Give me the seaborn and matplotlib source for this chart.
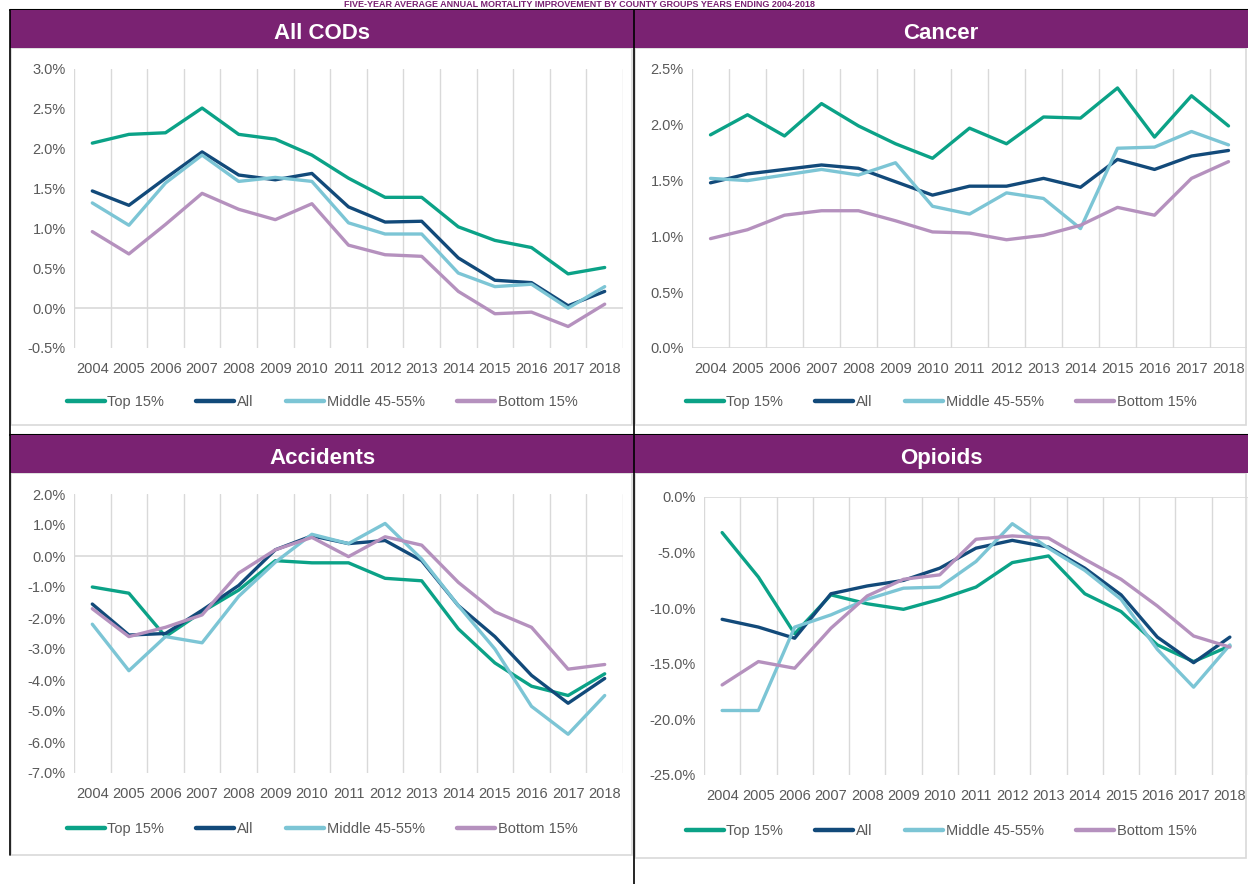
import pandas as pd
import matplotlib.pyplot as plt
import seaborn as sns
from matplotlib.patches import Rectangle
from matplotlib.lines import Line2D
from matplotlib.ticker import FuncFormatter

## data ---------------------------------------------------------------------
years  = list(range(2004, 2019))
groups = ['Top 15%', 'All', 'Middle 45-55%', 'Bottom 15%']

cod_top    = [2.07, 2.18, 2.20, 2.51, 2.18, 2.12, 1.92, 1.63, 1.39, 1.39, 1.02, 0.85, 0.76, 0.43, 0.51]
cod_all    = [1.47, 1.29, 1.63, 1.96, 1.67, 1.61, 1.69, 1.27, 1.08, 1.09, 0.63, 0.35, 0.32, 0.03, 0.21]
cod_mid    = [1.32, 1.04, 1.57, 1.92, 1.59, 1.64, 1.59, 1.07, 0.93, 0.93, 0.44, 0.27, 0.30, 0.00, 0.27]
cod_bottom = [0.96, 0.68, 1.05, 1.44, 1.24, 1.11, 1.31, 0.79, 0.67, 0.65, 0.21, -0.07, -0.05, -0.23, 0.05]

can_top    = [1.91, 2.09, 1.90, 2.19, 1.99, 1.83, 1.70, 1.97, 1.83, 2.07, 2.06, 2.33, 1.89, 2.26, 1.99]
can_all    = [1.48, 1.56, 1.60, 1.64, 1.61, 1.49, 1.37, 1.45, 1.45, 1.52, 1.44, 1.69, 1.60, 1.72, 1.77]
can_mid    = [1.52, 1.50, 1.55, 1.60, 1.55, 1.66, 1.27, 1.20, 1.39, 1.34, 1.07, 1.79, 1.80, 1.94, 1.82]
can_bottom = [0.98, 1.06, 1.19, 1.23, 1.23, 1.14, 1.04, 1.03, 0.97, 1.01, 1.10, 1.26, 1.19, 1.52, 1.67]

acc_top    = [-1.00, -1.20, -2.60, -1.80, -1.10, -0.15, -0.22, -0.22, -0.72, -0.80, -2.35, -3.45, -4.20, -4.50, -3.80]
acc_all    = [-1.55, -2.55, -2.50, -1.75, -0.95, 0.20, 0.65, 0.40, 0.50, -0.15, -1.60, -2.60, -3.85, -4.75, -3.95]
acc_mid    = [-2.20, -3.70, -2.60, -2.80, -1.30, -0.20, 0.70, 0.40, 1.05, -0.10, -1.60, -3.00, -4.85, -5.75, -4.50]
acc_bottom = [-1.70, -2.60, -2.30, -1.90, -0.55, 0.20, 0.60, -0.02, 0.62, 0.35, -0.85, -1.80, -2.30, -3.65, -3.50]

opi_top    = [-3.2, -7.2, -12.3, -8.8, -9.6, -10.1, -9.2, -8.1, -5.9, -5.3, -8.7, -10.3, -13.3, -14.8, -13.4]
opi_all    = [-11.0, -11.7, -12.7, -8.7, -8.0, -7.5, -6.4, -4.6, -3.9, -4.5, -6.4, -8.8, -12.6, -14.9, -12.6]
opi_mid    = [-19.2, -19.2, -11.7, -10.6, -9.2, -8.2, -8.1, -5.8, -2.4, -4.6, -6.6, -9.2, -13.7, -17.1, -13.3]
opi_bottom = [-16.9, -14.8, -15.4, -11.8, -8.9, -7.4, -7.0, -3.8, -3.5, -3.7, -5.6, -7.4, -9.8, -12.5, -13.5]

## style ---------------------------------------------------------------------
W, H = 1248, 884
PURPLE = '#7A2272'
palette = {'Top 15%': '#0BA287', 'All': '#124A7A',
           'Middle 45-55%': '#7CC5D5', 'Bottom 15%': '#B591BE'}
TXT = '#595959'

sns.set_theme(style='white')
plt.rcParams['font.family'] = ['Liberation Sans', 'DejaVu Sans']

def px(x0, y0, x1, y1):
    return [x0 / W, 1 - y1 / H, (x1 - x0) / W, (y1 - y0) / H]

def make_df(top, al, mid, bot):
    rows = []
    for g, vals in zip(groups, [top, al, mid, bot]):
        for i, v in enumerate(vals):
            rows.append({'pos': i, 'val': v, 'group': g})
    return pd.DataFrame(rows)

fig = plt.figure(figsize=(W / 100, H / 100), dpi=100)
fig.patch.set_facecolor('white')

# title strip above the panels
fig.text(580 / W, 1 - 4.5 / H, 'FIVE-YEAR AVERAGE ANNUAL MORTALITY IMPROVEMENT BY COUNTY GROUPS YEARS ENDING 2004-2018',
         ha='center', va='center', color=PURPLE, fontsize=6.5, fontweight='bold')

## panels --------------------------------------------------------------------
panels = [
    ('All CODs',  make_df(cod_top, cod_all, cod_mid, cod_bottom), (10, 10, 634, 48, 425),
     (74, 69, 623, 348), (-0.5, 3.0), 0.5, 402),
    ('Cancer',    make_df(can_top, can_all, can_mid, can_bottom), (634, 10, 1248, 48, 425),
     (692, 69, 1247, 348), (0.0, 2.5), 0.5, 402),
    ('Accidents', make_df(acc_top, acc_all, acc_mid, acc_bottom), (10, 435, 634, 473, 855),
     (74, 494, 623, 773), (-7.0, 2.0), 1.0, 829),
    ('Opioids',   make_df(opi_top, opi_all, opi_mid, opi_bottom), (634, 435, 1248, 473, 858),
     (704, 497, 1248, 775), (-25.0, 0.0), 5.0, 831),
]

for title, df, box, ax_box, ylim, step, leg_y in panels:
    bx0, by0, bx1, hy, by1 = box
    # panel border (behind the axes)
    fig.patches.append(Rectangle((bx0 / W + 1 / W, 1 - by1 / H), (bx1 - bx0 - 3) / W, (by1 - hy) / H,
                                 transform=fig.transFigure, facecolor='white', edgecolor='#D9D9D9',
                                 lw=1.2, zorder=-2))
    # header band
    fig.patches.append(Rectangle((bx0 / W, 1 - hy / H), (bx1 - bx0) / W, (hy - by0) / H,
                                 transform=fig.transFigure, facecolor=PURPLE, edgecolor='none', zorder=-1))
    fig.lines.append(Line2D([bx0 / W, bx1 / W], [1 - by0 / H] * 2, transform=fig.transFigure,
                            color='black', lw=1.5, zorder=-1))
    fig.text((bx0 + bx1) / 2 / W, 1 - (by0 + hy + 9) / 2 / H, title, ha='center', va='center',
             color='white', fontsize=16, fontweight='bold')

    ax = fig.add_axes(px(*ax_box))
    ax.set_zorder(1)
    sns.lineplot(data=df, x='pos', y='val', hue='group', hue_order=groups, palette=palette,
                 lw=2.4, ax=ax, legend=False)
    ax.set_xlim(-0.5, len(years) - 0.5)
    ax.set_ylim(*ylim)
    ax.set_xticks(range(len(years)))
    ax.set_xticklabels([str(y) for y in years])
    yt = []
    v = ylim[0]
    while v <= ylim[1] + 1e-9:
        yt.append(v)
        v += step
    ax.set_yticks(yt)
    ax.yaxis.set_major_formatter(FuncFormatter(lambda x, p: '{:.1f}%'.format(x)))
    for k in range(len(years) + 1):
        ax.axvline(k - 0.5, color='#D9D9D9', lw=1.0, zorder=0)
    if ylim[0] < 0 < ylim[1]:
        ax.axhline(0, color='#D9D9D9', lw=1.2, zorder=0)
    elif ylim[0] == 0:
        ax.axhline(0, color='#D9D9D9', lw=1.2, zorder=0)
    else:
        ax.axhline(ylim[1], color='#D9D9D9', lw=1.2, zorder=0)
    for s in ax.spines.values():
        s.set_visible(False)
    ax.tick_params(axis='both', length=0, labelsize=10.5, labelcolor=TXT)
    ax.tick_params(axis='x', pad=10)
    ax.tick_params(axis='y', pad=6)
    ax.set_xlabel('')
    ax.set_ylabel('')
    ax.set_facecolor('none')

    handles = [Line2D([0], [0], color=palette[g], lw=3.2) for g in groups]
    cx = (bx0 + bx1) / 2
    ax.legend(handles, groups, loc='center', ncol=4, frameon=False,
              bbox_to_anchor=(cx / W, 1 - leg_y / H), bbox_transform=fig.transFigure,
              fontsize=10.5, labelcolor=TXT, handlelength=2.6, handletextpad=0.2,
              columnspacing=2.2)

# separating black lines
fig.lines.append(Line2D([10 / W, 10 / W], [1 - 10 / H, 1 - 855 / H], transform=fig.transFigure,
                        color='black', lw=1.2))
fig.lines.append(Line2D([634 / W, 634 / W], [1 - 10 / H, 0], transform=fig.transFigure,
                        color='black', lw=1.2))

fig.savefig('out.png', dpi=100)
